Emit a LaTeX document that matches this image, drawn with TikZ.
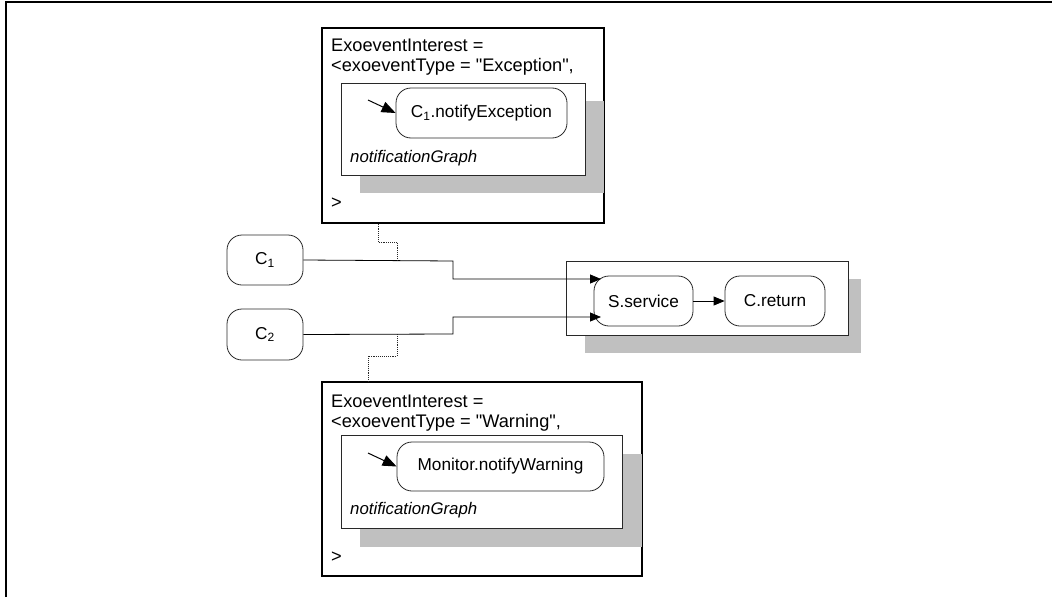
\documentclass[tikz,border=0pt]{standalone}
\usepackage{fontspec}
\setmainfont{Liberation Sans}[Ligatures=TeXOff]
\usetikzlibrary{arrows.meta}
\definecolor{shadowgray}{RGB}{192,192,192}
\definecolor{linegray}{RGB}{40,40,40}
\begin{document}
\begin{tikzpicture}[x=1pt,y=-1pt,
  every node/.style={font=\fontsize{17.2}{20}\selectfont},
  rnode/.style={draw=linegray,line width=0.8pt,rounded corners=15pt,inner sep=0pt,fill=white},
  outerbox/.style={draw=black,line width=1.4pt,inner sep=0pt,fill=white},
  innerbox/.style={draw=linegray,line width=0.8pt,inner sep=0pt,fill=white},
  shadowbox/.style={fill=shadowgray,draw=none,inner sep=0pt},
  txt/.style={anchor=base west,inner sep=0pt,font=\fontsize{18.2}{20}\selectfont},
  gtxt/.style={anchor=base west,inner sep=0pt,font=\fontsize{16.8}{20}\selectfont\itshape},
  arr/.style={-{Triangle[length=11pt,width=9pt]},line width=0.8pt,draw=black},
  bigarr/.style={-{Triangle[length=14pt,width=11pt]},line width=1pt,draw=black},
  conn/.style={line width=0.8pt,draw=black},
  dots/.style={densely dotted,line width=0.9pt,draw=linegray}]
\useasboundingbox (0,0) rectangle (1052,597);
% page frame
\draw[line width=1.6pt] (6,597) -- (6,2) -- (1052,2);

% ---------- top interest box ----------
\node[outerbox,minimum width=282pt,minimum height=195pt] (topouter) at (463,125.5) {};
\node[shadowbox,minimum width=244pt,minimum height=92pt] (topshadow) at (482,147) {};
\node[innerbox,minimum width=244pt,minimum height=92pt] (topinner) at (463,129) {};
\node[rnode,minimum width=171pt,minimum height=50pt] (notex) at (481.5,113) {C\textsubscript{1}.notifyException};
\coordinate (notexstart) at (368,100);
\draw[bigarr] (notexstart) -- (notex.west);
\node[txt] (toptxt1) at (331,51) {ExoeventInterest =};
\node[txt] (toptxt2) at (331,71) {<exoeventType = "Exception",};
\node[gtxt] (topgraph) at (350,162) {notificationGraph};
\node[txt] (topclose) at (331,208) {>};

% ---------- bottom interest box ----------
\node[outerbox,minimum width=320pt,minimum height=194pt] (botouter) at (482,479) {};
\node[shadowbox,minimum width=282pt,minimum height=93pt] (botshadow) at (501,500.5) {};
\node[innerbox,minimum width=281pt,minimum height=93pt] (botinner) at (481.5,481.5) {};
\node[rnode,minimum width=207pt,minimum height=49pt] (notwarn) at (500.5,466.5) {Monitor.notifyWarning};
\coordinate (notwarnstart) at (368,453);
\draw[bigarr] (notwarnstart) -- (notwarn.west);
\node[txt] (bottxt1) at (331,407) {ExoeventInterest =};
\node[txt] (bottxt2) at (331,427) {<exoeventType = "Warning",};
\node[gtxt] (botgraph) at (350,514) {notificationGraph};
\node[txt] (botclose) at (331,562) {>};

% ---------- clients ----------
\node[rnode,minimum width=76pt,minimum height=50pt] (c1) at (265,260) {C\textsubscript{1}};
\node[rnode,minimum width=76pt,minimum height=51pt] (c2) at (265,334.5) {C\textsubscript{2}};

% ---------- service box ----------
\node[shadowbox,minimum width=276pt,minimum height=74pt] (svshadow) at (723,316) {};
\node[innerbox,minimum width=282pt,minimum height=74pt] (svbox) at (707,298) {};
\node[rnode,minimum width=99pt,minimum height=50pt] (sserv) at (643.5,301) {S.service};
\node[rnode,minimum width=100pt,minimum height=50pt] (cret) at (775,301) {C.return};
\draw[arr] (sserv.east) -- (cret.west);

% ---------- connectors ----------
\coordinate (tip1) at (601,279);
\coordinate (tip2) at (601,317);
\draw[conn,arr] (c1.east) -- (453,261) -- (453,279) -- (tip1);
\draw[conn,arr] (c2.east) -- (453,334) -- (453,317) -- (tip2);

% ---------- dotted links ----------
\draw[dots] (topouter.south -| 378,0) -- (378,242) -- (397,242) -- (397,261);
\draw[dots] (397,334) -- (397,356) -- (368,356) -- (botouter.north -| 368,0);
\end{tikzpicture}
\end{document}
